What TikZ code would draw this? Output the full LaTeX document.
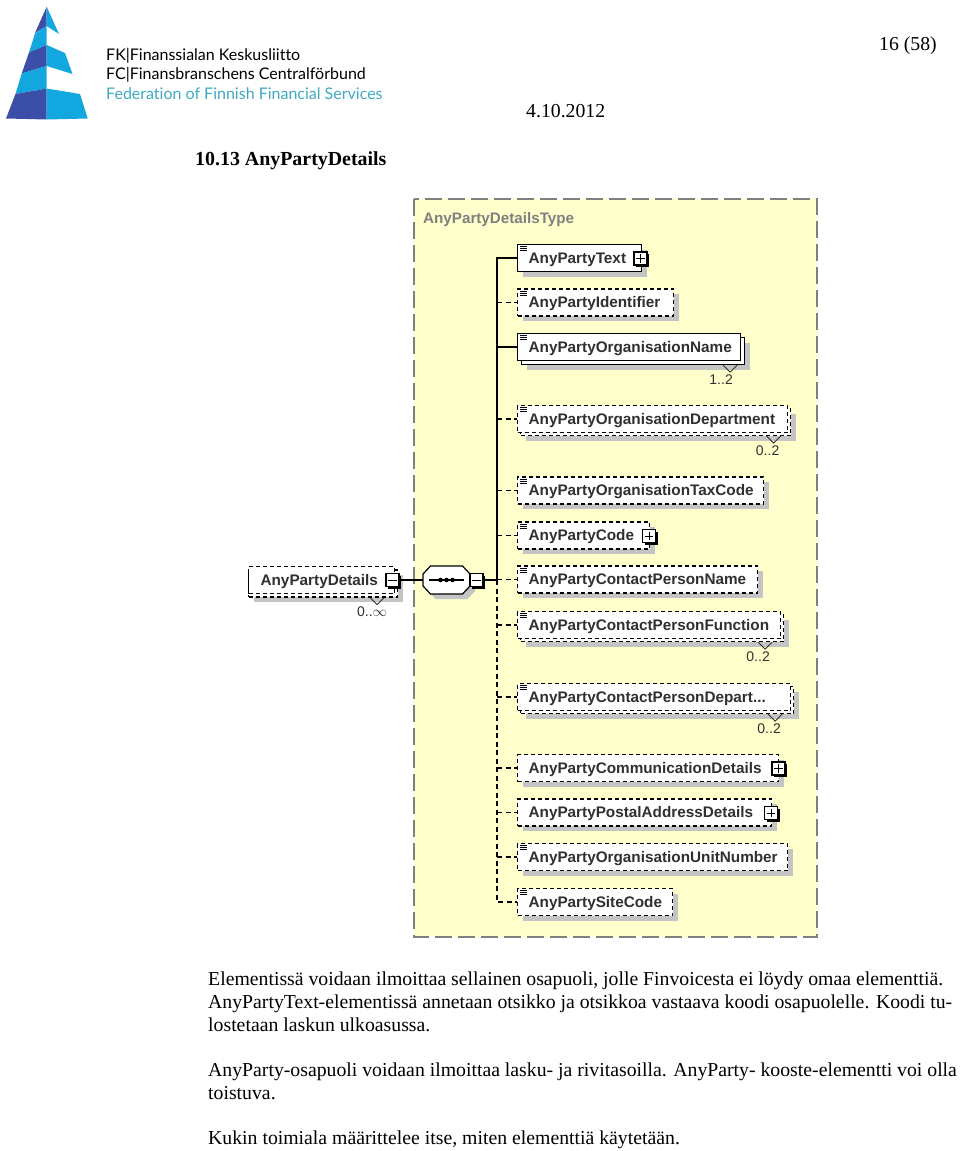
\documentclass[tikz,border=0pt]{standalone}
\usepackage{fontspec}
\setmainfont{Liberation Serif}
\newfontfamily\diagfont{Liberation Sans}
\newfontfamily\logofont[Ligatures=NoCommon]{Lato}
\usetikzlibrary{arrows.meta,positioning,calc,shadows}

\definecolor{logodark}{HTML}{3B4FA8}
\definecolor{logolight}{HTML}{12A8DF}
\definecolor{logoteal}{HTML}{3FA9C4}
\definecolor{typefill}{HTML}{FFFFCC}
\definecolor{typeedge}{HTML}{808080}
\definecolor{shadowgray}{HTML}{C4C4C4}
\definecolor{labelgray}{HTML}{303030}

\tikzset{
  elembox/.style={draw=black, fill=white, line width=1.2pt, anchor=west, minimum width=#1,
    minimum height=27, inner ysep=0pt, inner xsep=11pt, text width={#1-22pt}, align=left,
    text height=10pt, text depth=0pt,
    font=\diagfont\bfseries\fontsize{15.3}{16}\selectfont, text=labelgray},
  withshadow/.style={drop shadow={shadow xshift=5pt, shadow yshift=-5pt, fill=shadowgray, opacity=1}},
  optbox/.style={dash pattern=on 4pt off 3pt},
  togglebox/.style={draw=black, fill=white, line width=1.1pt, minimum size=13, inner sep=0pt,
    drop shadow={shadow xshift=2pt, shadow yshift=-2pt, fill=black, opacity=1}},
  stem/.style={line width=1.3pt, black},
  optstem/.style={stem, dash pattern=on 5pt off 3.5pt},
  cardtext/.style={font=\diagfont\fontsize{14}{16}\selectfont, text=labelgray, inner sep=0pt},
  doctext/.style={anchor=base west, inner sep=0pt, font=\fontsize{19.75}{22.6}\selectfont},
  logotext/.style={anchor=base west, inner sep=0pt, font=\logofont\fontsize{16}{20}\selectfont}
}

% small marks that go on a named node
\newcommand{\docmark}[1]{%
  \foreach \dy in {2.5,4.5,6.5} {\draw[line width=0.8pt] ([shift={(3,\dy)}]#1.north west) -- ++(6.5,0);}}
\newcommand{\plusbox}[3]{%
  \node[togglebox] (#1) at (#2,#3) {};
  \draw[line width=0.9pt] ([xshift=3pt]#1.west) -- ([xshift=-3pt]#1.east);
  \draw[line width=0.9pt] ([yshift=-3pt]#1.north) -- ([yshift=3pt]#1.south);}
\newcommand{\minusbox}[3]{%
  \node[togglebox] (#1) at (#2,#3) {};
  \draw[line width=0.9pt] ([xshift=3pt]#1.west) -- ([xshift=-3pt]#1.east);}
\newcommand{\cardmark}[5]{%
  \draw[line width=0.8pt, labelgray] ($(#1.south)+(#2,0)$) ++(-7,0) -- ++(7,7) -- ++(7,-7);
  \node[cardtext] (#1Card) at ($(#1.south)+(#3,#4)$) {#5};}

\begin{document}
\begin{tikzpicture}[x=1pt, y=-1pt]
  \useasboundingbox (0,0) rectangle (960,1151);

  % Logo
  \fill[logodark] (46.7,6.7) -- (35,33) -- (46.7,26) -- cycle;
  \fill[logolight] (46.7,6.7) -- (59,34) -- (46.7,26) -- cycle;
  \fill[logolight] (35,33.5) -- (29,52.5) -- (46.7,45) -- (46.7,26) -- cycle;
  \fill[logodark] (29,52.5) -- (21.7,73.5) -- (46.7,66) -- (46.7,45) -- cycle;
  \fill[logolight] (46.7,45) -- (65,53) -- (72.5,74) -- (46.7,66) -- cycle;
  \fill[logolight] (21.7,73.5) -- (15.5,94) -- (46.7,88.5) -- (46.7,66) -- cycle;
  \fill[logodark] (15.5,94) -- (6,118.5) -- (46.7,119.5) -- (46.7,88.5) -- cycle;
  \fill[logolight] (46.7,88.5) -- (80,94) -- (87.7,118.5) -- (46.7,119.5) -- cycle;
  \node[logotext] (logoFk) at (106,60) {FK|Finanssialan Keskusliitto};
  \node[logotext] (logoFc) at (106,79.5) {FC|Finansbranschens Centralförbund};
  \node[logotext, text=logoteal] (logoFed) at (106,99) {Federation of Finnish Financial Services};

  % Page head
  \node[doctext] (pageNo) at (879,50) {16 (58)};
  \node[doctext] (pageDate) at (526,117) {4.10.2012};
  \node[doctext, font=\bfseries\fontsize{19.9}{22.5}\selectfont] (sectionHead) at (195,165) {10.13 AnyPartyDetails};

  % Type frame
  \draw[fill=typefill, draw=typeedge, line width=1.5pt, dash pattern=on 17pt off 6pt] (414,199) rectangle (817,937);
  \node[anchor=base west, inner sep=0pt, text=typeedge, font=\diagfont\bfseries\fontsize{15.2}{16}\selectfont] (typeName) at (423,223) {AnyPartyDetailsType};

  % Top element and sequence
  \node[elembox=149, optbox, withshadow] (rootBack) at (248,583.5) {};
  \node[elembox=146, optbox, inner xsep=12pt, text width=122pt] (root) at (248,580) {AnyPartyDetails};
  \minusbox{rootToggle}{392.5}{580}
  \cardmark{rootBack}{54}{49}{14}{0..$\infty$}
  \node[minimum width=47, minimum height=28, inner sep=0pt] (seqNode) at (446.5,580) {};
  \draw[fill=white, line width=1.2pt, withshadow, shift={(seqNode.center)}]
    (-23.5,-6) -- (-16,-14) -- (16,-14) -- (23.5,-6) -- (23.5,6) -- (16,14) -- (-16,14) -- (-23.5,6) -- cycle;
  \draw[line width=1.2pt] ([xshift=6pt]seqNode.west) -- ([xshift=-6pt]seqNode.east);
  \foreach \dx in {-6,0,6} {\fill ($(seqNode.center)+(\dx,0)$) circle (2.3pt);}
  \minusbox{seqToggle}{476.5}{580}
  \coordinate (hub) at (497,580);

  % Child elements
  \node[elembox=124, withshadow] (partyText) at (517,258) {AnyPartyText};
  \node[elembox=156, optbox, withshadow] (partyIdent) at (517,302.5) {AnyPartyIdentifier};
  \node[elembox=223, withshadow] (orgNameBack) at (521,351) {};
  \node[elembox=223] (orgName) at (517,347) {AnyPartyOrganisationName};
  \node[elembox=270, optbox, withshadow] (orgDeptBack) at (520,422) {};
  \node[elembox=270, optbox] (orgDept) at (517,419) {AnyPartyOrganisationDepartment};
  \node[elembox=246, optbox, withshadow] (taxCode) at (517,490.5) {AnyPartyOrganisationTaxCode};
  \node[elembox=132, optbox, withshadow] (partyCode) at (517,535.5) {AnyPartyCode};
  \node[elembox=240, optbox, withshadow] (contactName) at (517,579.5) {AnyPartyContactPersonName};
  \node[elembox=263, optbox, withshadow] (contactFunc) at (520,628) {};
  \node[elembox=263, optbox] (contactFuncFront) at (517,625) {AnyPartyContactPersonFunction};
  \node[elembox=273, optbox, withshadow] (contactDeptBack) at (520,700) {};
  \node[elembox=273, optbox] (contactDept) at (517,697) {AnyPartyContactPersonDepart...};
  \node[elembox=261, optbox, withshadow] (commDetails) at (517,768) {AnyPartyCommunicationDetails};
  \node[elembox=254, optbox, withshadow] (postalDetails) at (517,812.5) {AnyPartyPostalAddressDetails};
  \node[elembox=270, optbox, withshadow] (unitNumber) at (517,857) {AnyPartyOrganisationUnitNumber};
  \node[elembox=155, optbox, withshadow] (siteCode) at (517,902) {AnyPartySiteCode};

  \plusbox{textToggle}{640.5}{258.5}
  \plusbox{codeToggle}{649}{536}
  \plusbox{commToggle}{778.5}{768.5}
  \plusbox{postalToggle}{771}{813}

  \foreach \n in {partyText,partyIdent,orgName,orgDept,taxCode,partyCode,contactName,contactFuncFront,contactDept,unitNumber,siteCode} {\docmark{\n}}

  % Occurrence marks
  \cardmark{orgNameBack}{97}{88}{15}{1..2}
  \cardmark{orgDeptBack}{118}{112}{15}{0..2}
  \cardmark{contactFunc}{113}{106}{15}{0..2}
  \cardmark{contactDeptBack}{118}{112}{15}{0..2}

  % Connectors
  \draw[stem] (rootToggle) -- (seqNode);
  \draw[stem] (seqToggle) -- (hub);
  \draw[stem] (hub) |- (partyText);
  \draw[stem] (orgName.west -| hub) -- (orgName);
  \draw[optstem] (hub) |- (siteCode);
  \foreach \n in {partyIdent,orgDept,taxCode,partyCode,contactName,contactFuncFront,contactDept,commDetails,postalDetails,unitNumber} {\draw[optstem] (\n.west -| hub) -- (\n.west);}

  % Body text
  \node[doctext, anchor=north west, align=left] (bodyFirst) at (208,972) {Elementissä voidaan ilmoittaa sellainen osapuoli, jolle Finvoicesta ei löydy omaa elementtiä.\\
    AnyPartyText-elementissä annetaan otsikko ja otsikkoa vastaava koodi osapuolelle. Koodi tu-\\
    lostetaan laskun ulkoasussa.};
  \node[doctext, anchor=north west, align=left] (bodySecond) at (208,1063) {AnyParty-osapuoli voidaan ilmoittaa lasku- ja rivitasoilla. AnyParty- kooste-elementti voi olla\\
    toistuva.};
  \node[doctext, anchor=north west, align=left] (bodyThird) at (208,1131) {Kukin toimiala määrittelee itse, miten elementtiä käytetään.};
\end{tikzpicture}
\end{document}
